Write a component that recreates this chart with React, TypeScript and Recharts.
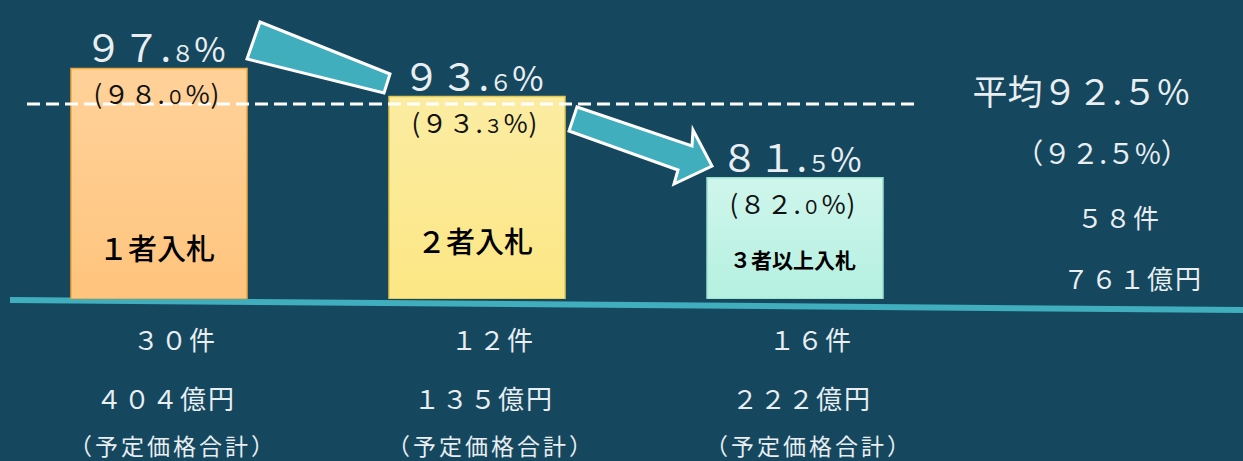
import React from "react";
import {
  BarChart,
  Bar,
  XAxis,
  YAxis,
  Cell,
  LabelList,
  ReferenceLine,
  Customized,
} from "recharts";

const categories = ["１者入札", "２者入札", "３者以上入札"];
const rates = [97.8, 93.6, 81.5];
const plannedRates = [98.0, 93.3, 82.0];
const counts = [30, 12, 16];
const amounts = [404, 135, 222];
const avgRate = 92.5;
const avgPlannedRate = 92.5;
const totalCount = 58;
const totalAmount = 761;

const data = categories.map((name, i) => ({
  name,
  rate: rates[i],
  planned: plannedRates[i],
}));

const FONT = '"Noto Sans CJK JP", "Noto Sans", sans-serif';
const BG = "#15475f";
const TEXT = "#e9eef1";

const barFills = [
  ["#ffd29a", "#ffc47d"],
  ["#fbeca2", "#fce784"],
  ["#d0f6ec", "#b4f0e0"],
];
const barStrokes = ["#f2a83a", "#e3c84e", "#9adfcd"];
const nameLift = [52, 59, 40];
const nameSize = [29, 29, 21];

// half-width digits -> full-width
const fw = (s: string) =>
  s.replace(/[0-9]/g, (d) => String.fromCharCode(d.charCodeAt(0) + 0xfee0));

const split = (v: number) => v.toFixed(1).split(".");

const TopLabel = (props: any) => {
  const { x, y, width, value } = props;
  const [ip, dp] = split(Number(value));
  return (
    <text
      x={Number(x) + Number(width) / 2 - 4}
      y={Number(y) - 6}
      textAnchor="middle"
      fill={TEXT}
      fontSize={38}
      fontFamily={FONT}
    >
      <tspan>{fw(ip)}.</tspan>
      <tspan fontSize={23}>{fw(dp)}</tspan>
      <tspan fontSize={34}>%</tspan>
    </text>
  );
};

const PlannedLabel = (props: any) => {
  const { x, y, width, value } = props;
  const [ip, dp] = split(Number(value));
  return (
    <text
      x={Number(x) + Number(width) / 2 - 2}
      y={Number(y) + 36}
      textAnchor="middle"
      fill="#111"
      fontSize={26}
      letterSpacing={1}
      fontFamily={FONT}
    >
      <tspan>({fw(ip)}.</tspan>
      <tspan fontSize={19}>{fw(dp)}</tspan>
      <tspan>%)</tspan>
    </text>
  );
};

const NameLabel = (props: any) => {
  const { x, y, width, height, value, index } = props;
  return (
    <text
      x={Number(x) + Number(width) / 2 - 2}
      y={Number(y) + Number(height) - nameLift[index]}
      textAnchor="middle"
      dominantBaseline="central"
      fill="#000"
      fontSize={nameSize[index]}
      fontWeight={index === 2 ? 700 : 500}
      fontFamily={FONT}
    >
      {value}
    </text>
  );
};

const BottomTick = (props: any) => {
  const { x, y, index } = props;
  return (
    <g fill={TEXT} fontFamily={FONT} textAnchor="middle">
      <text x={x + 16} y={y + 39} fontSize={26} letterSpacing={2} dominantBaseline="central">
        {fw(String(counts[index]))}件
      </text>
      <text x={x + 7} y={y + 98} fontSize={26} letterSpacing={2} dominantBaseline="central">
        {fw(String(amounts[index]))}億円
      </text>
      <text x={x + 14} y={y + 146} fontSize={23} letterSpacing={3} dominantBaseline="central">
        （予定価格合計）
      </text>
    </g>
  );
};

const AvgLine = (props: any) => {
  const { x1, y1, x2, y2 } = props;
  return (
    <line
      x1={Number(x1) + 27}
      y1={y1}
      x2={Number(x2) - 36}
      y2={y2}
      stroke="#ffffff"
      strokeWidth={3}
      strokeDasharray="13 6"
    />
  );
};

const Overlay = () => {
  const [ai, ad] = split(avgRate);
  const [pi, pd] = split(avgPlannedRate);
  return (
    <g>
      <polygon points="10,297 1243,307 1243,313 10,303" fill="#41aebe" />
      <polygon
        points="260,22 390,74 384,93 247,59"
        fill="#41aebe"
        stroke="#fff"
        strokeWidth={3}
      />
      <polygon
        points="577,107 692,146 693,130 712,166 674,184 678,170 569,131"
        fill="#41aebe"
        stroke="#fff"
        strokeWidth={3}
      />
      <g fill={TEXT} fontFamily={FONT} textAnchor="middle">
        <text x={1081} y={89} fontSize={35} dominantBaseline="central">
          平均{fw(ai)}.{fw(ad)}%
        </text>
        <text x={1102} y={152} fontSize={28} dominantBaseline="central">
          （{fw(pi)}.{fw(pd)}%）
        </text>
        <text x={1119} y={216} fontSize={26} letterSpacing={2} dominantBaseline="central">
          {fw(String(totalCount))}件
        </text>
        <text x={1133} y={277} fontSize={26} letterSpacing={2} dominantBaseline="central">
          {fw(String(totalAmount))}億円
        </text>
      </g>
    </g>
  );
};

export default function App() {
  return (
    <div
      style={{
        position: "absolute",
        left: 0,
        top: 0,
        width: 1243,
        height: 461,
        background: BG,
      }}
    >
      <BarChart
        width={1243}
        height={461}
        data={data}
        margin={{ top: 0, right: 289, left: 0, bottom: 0 }}
      >
        <defs>
          {barFills.map((f, i) => (
            <linearGradient key={i} id={`bar${i}`} x1="0" y1="0" x2="0" y2="1">
              <stop offset="0%" stopColor={f[0]} />
              <stop offset="100%" stopColor={f[1]} />
            </linearGradient>
          ))}
        </defs>
        <XAxis
          dataKey="name"
          axisLine={false}
          tickLine={false}
          tickSize={0}
          tickMargin={0}
          height={162}
          interval={0}
          tick={BottomTick}
        />
        <YAxis hide type="number" domain={[63.4, 108]} allowDataOverflow />
        <ReferenceLine y={avgRate} shape={AvgLine} />
        <Bar dataKey="rate" barSize={176} isAnimationActive={false}>
          {data.map((_, i) => (
            <Cell key={i} fill={`url(#bar${i})`} stroke={barStrokes[i]} strokeWidth={1.5} />
          ))}
          <LabelList dataKey="rate" content={TopLabel} />
          <LabelList dataKey="planned" content={PlannedLabel} />
          <LabelList dataKey="name" content={NameLabel} />
        </Bar>
        <Customized component={Overlay} />
      </BarChart>
    </div>
  );
}
